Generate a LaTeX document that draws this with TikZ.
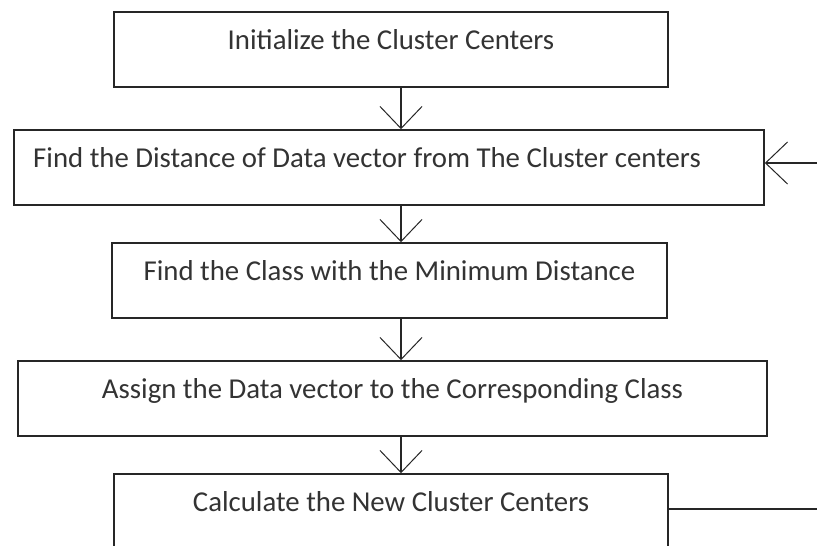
\documentclass[tikz,border=0pt]{standalone}
\usepackage{fontspec}
\setmainfont{Carlito}
\usetikzlibrary{arrows.meta,calc}
\begin{document}
\begin{tikzpicture}[x=1pt,y=-1pt,
  stepbox/.style={draw=black!85, line width=1.6pt, rectangle, inner sep=0pt,
    minimum height=75pt, text depth=10pt, text height=10pt,
    font=\fontsize{28.8}{32}\selectfont, text=black!80},
  flow/.style={draw=black!85, line width=1.3pt,
    -{Straight Barb[length=22pt,width=42pt,line width=1pt]}},
  plain/.style={draw=black!85, line width=1.3pt}]
\useasboundingbox (0,0) rectangle (817,546);
\clip (0,0) rectangle (817,546);
\fill[white] (0,0) rectangle (817,546);

\node[stepbox, minimum width=554pt] (b1) at (391,49.5) {Initialize the Cluster Centers};
\node[stepbox, minimum width=750pt] (b2) at (389,167.5) {Find the Distance of Data vector from The Cluster centers\hspace*{44pt}};
\node[stepbox, minimum width=555pt] (b3) at (389.5,280.5) {Find the Class with the Minimum Distance};
\node[stepbox, minimum width=749pt] (b4) at (392.5,398.5) {Assign the Data vector to the Corresponding Class};
\node[stepbox, minimum width=554pt] (b5) at (391,511.5) {Calculate the New Cluster Centers};

% downward flow, slightly right of the box centres
\coordinate (ax) at (401,0);
\draw[flow] (b1.south -| ax) -- (b2.north -| ax);
\draw[flow] (b2.south -| ax) -- (b3.north -| ax);
\draw[flow] (b3.south -| ax) -- (b4.north -| ax);
\draw[flow] (b4.south -| ax) -- (b5.north -| ax);

% loop back from the last step to the distance step
\coordinate (outR) at (817,509);
\coordinate (inR) at (817,163);
\draw[plain] (b5.east |- outR) -- (outR);
\draw[flow] (inR) -- (b2.east |- inR);
\end{tikzpicture}
\end{document}
